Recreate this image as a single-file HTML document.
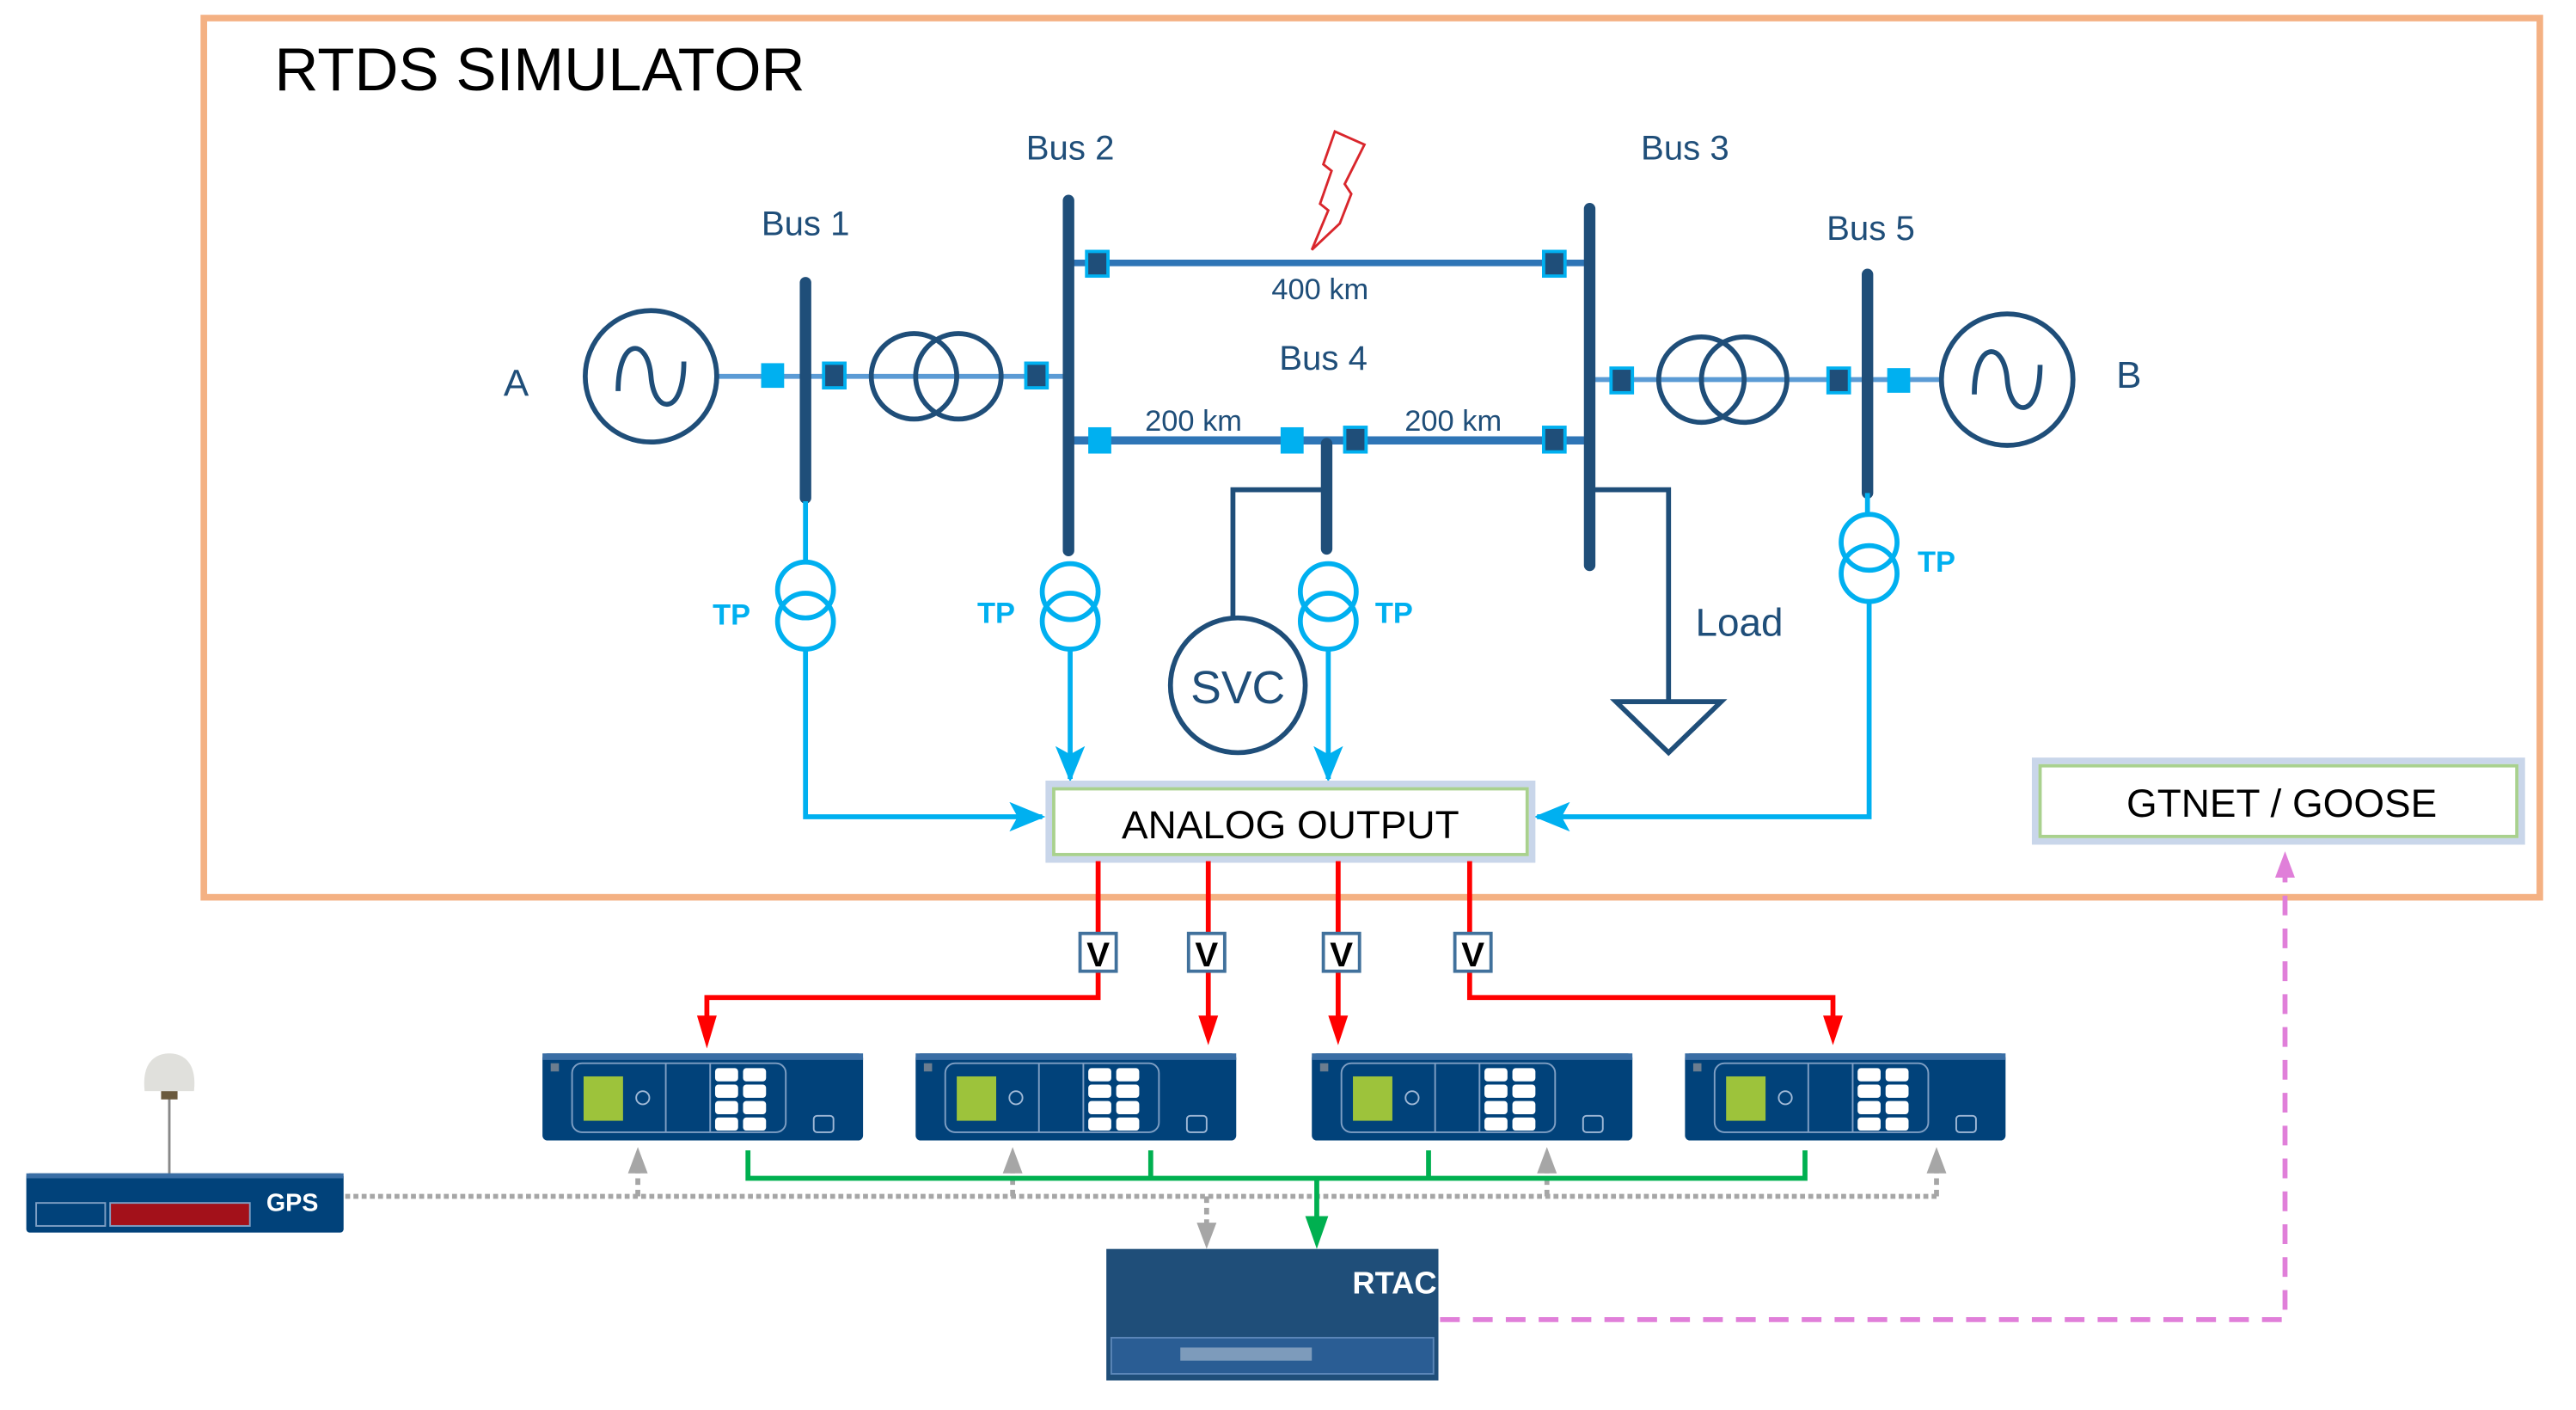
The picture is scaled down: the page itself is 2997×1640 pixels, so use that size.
<!DOCTYPE html>
<html><head><meta charset="utf-8"><style>
html,body{margin:0;padding:0;background:#fff}
svg{display:block}
text{font-family:"Liberation Sans",sans-serif}
</style></head><body>
<svg width="2997" height="1640" viewBox="0 0 1567 858" preserveAspectRatio="none" xmlns="http://www.w3.org/2000/svg">
<defs>
<marker id="ab" markerWidth="22" markerHeight="18" refX="20" refY="9" orient="auto" markerUnits="userSpaceOnUse"><path d="M0,0 L22,9 L0,18 L5,9 z" fill="#00b0f0"/></marker>
<g id="relay">
<rect x="0" y="0" width="195" height="53" rx="3" fill="#01427a"/>
<rect x="0" y="0" width="195" height="4" fill="#3a6ea5"/>
<rect x="18" y="6" width="130" height="42" rx="6" fill="none" stroke="#7f9fc4" stroke-width="1"/>
<line x1="75" y1="6" x2="75" y2="48" stroke="#7f9fc4"/>
<line x1="102" y1="6" x2="102" y2="48" stroke="#7f9fc4"/>
<rect x="25" y="14" width="24" height="27" fill="#9dc33b"/>
<circle cx="61" cy="27" r="4" fill="none" stroke="#9fb8d6"/>
<g fill="#fff">
<rect x="105" y="9" width="14" height="8" rx="2"/><rect x="122" y="9" width="14" height="8" rx="2"/>
<rect x="105" y="19" width="14" height="8" rx="2"/><rect x="122" y="19" width="14" height="8" rx="2"/>
<rect x="105" y="29" width="14" height="8" rx="2"/><rect x="122" y="29" width="14" height="8" rx="2"/>
<rect x="105" y="39" width="14" height="8" rx="2"/><rect x="122" y="39" width="14" height="8" rx="2"/>
</g>
<rect x="165" y="38" width="12" height="10" rx="2" fill="none" stroke="#9fb8d6"/>
<rect x="5" y="6" width="5" height="5" fill="#6b7d8f"/>
</g>
</defs>

<rect x="124" y="11" width="1421" height="535" fill="none" stroke="#f4b183" stroke-width="4"/>
<text x="167" y="55" font-size="37" fill="#000">RTDS SIMULATOR</text>

<g font-size="21" fill="#1f4e79" text-anchor="middle">
<text x="490" y="143">Bus 1</text>
<text x="651" y="97">Bus 2</text>
<text x="1025" y="97">Bus 3</text>
<text x="805" y="225">Bus 4</text>
<text x="1138" y="146">Bus 5</text>
<text x="803" y="182" font-size="18">400 km</text>
<text x="726" y="262" font-size="18">200 km</text>
<text x="884" y="262" font-size="18">200 km</text>
<text x="314" y="241" font-size="23">A</text>
<text x="1295" y="236" font-size="23">B</text>
</g>

<line x1="436" y1="229" x2="650" y2="229" stroke="#5b9bd5" stroke-width="3"/>
<line x1="967" y1="231" x2="1181" y2="231" stroke="#5b9bd5" stroke-width="3"/>
<line x1="650" y1="160" x2="967" y2="160" stroke="#2e75b6" stroke-width="4"/>
<line x1="650" y1="268" x2="967" y2="268" stroke="#2e75b6" stroke-width="5"/>

<g stroke="#1f4e79" stroke-width="7" stroke-linecap="round">
<line x1="490" y1="172" x2="490" y2="303"/>
<line x1="650" y1="122" x2="650" y2="335"/>
<line x1="967" y1="127" x2="967" y2="344"/>
<line x1="807" y1="270" x2="807" y2="334"/>
<line x1="1136" y1="167" x2="1136" y2="300"/>
</g>

<g fill="#00b0f0">
<rect x="463" y="221" width="14" height="15"/>
<rect x="662" y="260" width="14" height="16"/>
<rect x="779" y="260" width="14" height="16"/>
<rect x="1148" y="224" width="14" height="15"/>
</g>
<g fill="#1f4e79" stroke="#00b0f0" stroke-width="2">
<rect x="501" y="221" width="13" height="15"/>
<rect x="624" y="221" width="13" height="15"/>
<rect x="661" y="153" width="13" height="15"/>
<rect x="939" y="153" width="13" height="15"/>
<rect x="818" y="260" width="13" height="15"/>
<rect x="939" y="260" width="13" height="15"/>
<rect x="980" y="224" width="13" height="15"/>
<rect x="1112" y="224" width="13" height="15"/>
</g>

<g fill="none" stroke="#1f4e79" stroke-width="3">
<circle cx="396" cy="229" r="40"/>
<path d="M376,238 C376,205 394,205 396,229 C398,253 416,253 416,220"/>
<circle cx="1221" cy="231" r="40"/>
<path d="M1201,240 C1201,207 1219,207 1221,231 C1223,255 1241,255 1241,222"/>
<circle cx="556" cy="229" r="26"/><circle cx="583" cy="229" r="26"/>
<circle cx="1035" cy="231" r="26"/><circle cx="1061" cy="231" r="26"/>
<polyline points="807,298 750,298 750,376"/>
<circle cx="753" cy="417" r="41"/>
<polyline points="967,298 1015,298 1015,427"/>
<polygon points="983,427 1047,427 1015,458"/>
</g>
<text x="753" y="428" font-size="28" fill="#1f4e79" text-anchor="middle">SVC</text>
<text x="1058" y="387" font-size="24" fill="#1f4e79" text-anchor="middle">Load</text>

<path d="M812,80 L830,88 L818,112 L822,118 L815,136 L798,152 L808,128 L803,124 L810,104 L805,100 Z" fill="none" stroke="#d9262c" stroke-width="1.5"/>

<g fill="none" stroke="#00b0f0" stroke-width="3">
<line x1="490" y1="305" x2="490" y2="342"/>
<circle cx="490" cy="359" r="17"/><circle cx="490" cy="378" r="17"/>
<polyline points="490,395 490,497 634,497" marker-end="url(#ab)"/>
<circle cx="651" cy="360" r="17"/><circle cx="651" cy="378" r="17"/>
<line x1="651" y1="395" x2="651" y2="474" marker-end="url(#ab)"/>
<circle cx="808" cy="360" r="17"/><circle cx="808" cy="378" r="17"/>
<line x1="808" y1="395" x2="808" y2="474" marker-end="url(#ab)"/>
<line x1="1136" y1="300" x2="1136" y2="313"/>
<circle cx="1137" cy="330" r="17"/><circle cx="1137" cy="349" r="17"/>
<polyline points="1137,366 1137,497 935,497" marker-end="url(#ab)"/>
</g>
<g font-size="18" fill="#00b0f0" font-weight="bold" text-anchor="middle">
<text x="445" y="380">TP</text><text x="606" y="379">TP</text>
<text x="848" y="379">TP</text><text x="1178" y="348">TP</text>
</g>

<rect x="638" y="477" width="294" height="46" fill="#fff" stroke="#c9d6ea" stroke-width="4"/>
<rect x="641" y="480" width="288" height="40" fill="#fff" stroke="#a9d18e" stroke-width="2"/>
<text x="785" y="510" font-size="24" text-anchor="middle" fill="#000">ANALOG OUTPUT</text>
<rect x="1238" y="463" width="296" height="49" fill="#fff" stroke="#c9d6ea" stroke-width="4"/>
<rect x="1241" y="466" width="290" height="43" fill="#fff" stroke="#a9d18e" stroke-width="2"/>
<text x="1388" y="497" font-size="24" text-anchor="middle" fill="#000">GTNET / GOOSE</text>

<g fill="none" stroke="#ff0000" stroke-width="3">
<polyline points="668,524 668,607 430,607 430,622"/>
<line x1="735" y1="524" x2="735" y2="622"/>
<line x1="814" y1="524" x2="814" y2="622"/>
<polyline points="894,524 894,607 1115,607 1115,622"/>
</g>
<g fill="#ff0000">
<polygon points="424,618 436,618 430,638"/>
<polygon points="729,618 741,618 735,636"/>
<polygon points="808,618 820,618 814,636"/>
<polygon points="1109,618 1121,618 1115,636"/>
</g>
<g fill="#fff" stroke="#41719c" stroke-width="2">
<rect x="657" y="568" width="22" height="23"/><rect x="723" y="568" width="22" height="23"/>
<rect x="805" y="568" width="22" height="23"/><rect x="885" y="568" width="22" height="23"/>
</g>
<g font-size="21" font-weight="bold" text-anchor="middle" fill="#000">
<text x="668" y="588">V</text><text x="734" y="588">V</text><text x="816" y="588">V</text><text x="896" y="588">V</text>
</g>

<use href="#relay" x="330" y="641"/>
<use href="#relay" x="557" y="641"/>
<use href="#relay" x="798" y="641"/>
<use href="#relay" x="1025" y="641"/>

<line x1="103" y1="668" x2="103" y2="714" stroke="#888" stroke-width="1.5"/>
<path d="M88,664 C86,646 95,641 103,641 C111,641 120,646 118,664 Z" fill="#e0e0dc"/>
<rect x="98" y="664" width="10" height="5" fill="#6b5a3e"/>
<rect x="16" y="714" width="193" height="36" rx="2" fill="#01427a"/>
<rect x="16" y="714" width="193" height="3" fill="#3a6ea5"/>
<rect x="22" y="732" width="42" height="14" fill="none" stroke="#7f9fc4"/>
<rect x="67" y="732" width="85" height="14" fill="#a3111a" stroke="#7f9fc4"/>
<text x="162" y="737" font-size="15" font-weight="bold" fill="#fff">GPS</text>

<g fill="none" stroke="#a6a6a6" stroke-width="3">
<line x1="210" y1="728" x2="1180" y2="728" stroke-dasharray="3,2"/>
<line x1="388" y1="728" x2="388" y2="712" stroke-dasharray="4,3"/>
<line x1="616" y1="728" x2="616" y2="712" stroke-dasharray="4,3"/>
<line x1="941" y1="728" x2="941" y2="712" stroke-dasharray="4,3"/>
<line x1="1178" y1="728" x2="1178" y2="712" stroke-dasharray="4,3"/>
<line x1="734" y1="728" x2="734" y2="748" stroke-dasharray="4,3"/>
</g>
<g fill="#a6a6a6">
<polygon points="382,714 394,714 388,698"/><polygon points="610,714 622,714 616,698"/>
<polygon points="935,714 947,714 941,698"/><polygon points="1172,714 1184,714 1178,698"/>
<polygon points="728,744 740,744 734,760"/>
</g>

<g fill="none" stroke="#00b050" stroke-width="3">
<polyline points="455,700 455,717 1098,717 1098,700"/>
<line x1="700" y1="700" x2="700" y2="717"/>
<line x1="869" y1="700" x2="869" y2="717"/>
<line x1="801" y1="717" x2="801" y2="744"/>
</g>
<polygon points="794,740 808,740 801,760" fill="#00b050"/>

<rect x="673" y="760" width="202" height="80" fill="#1f4e79"/>
<rect x="676" y="814" width="196" height="22" fill="#2a5d94" stroke="#5b86b8"/>
<rect x="718" y="820" width="80" height="8" fill="#7d9bbb"/>
<text x="874" y="787" font-size="19" font-weight="bold" fill="#fff" text-anchor="end">RTAC</text>

<polyline points="876,803 1390,803 1390,530" fill="none" stroke="#e07fd9" stroke-width="3" stroke-dasharray="12,8"/>
<polygon points="1384,534 1396,534 1390,518" fill="#e07fd9"/>
</svg>
</body></html>
